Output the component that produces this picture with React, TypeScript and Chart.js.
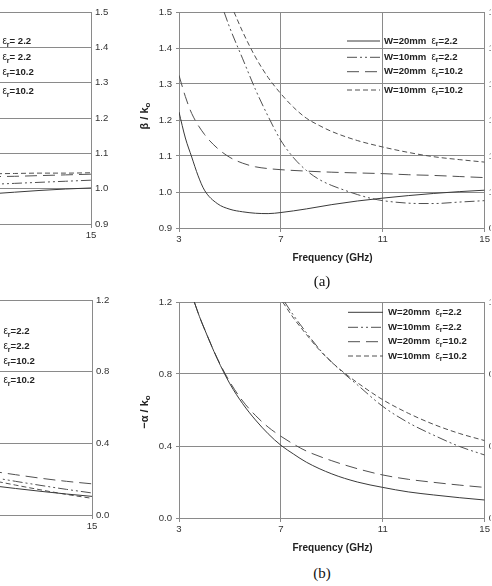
import React, { useEffect, useRef } from "react";
import { Chart, registerables } from "chart.js";

Chart.register(...registerables);

// ---------------- data ----------------
const freqTicks = [3, 7, 11, 15];
const betaTicks = [0.9, 1.0, 1.1, 1.2, 1.3, 1.4, 1.5];
const alphaTicks = [0.0, 0.4, 0.8, 1.2];
const legendW = ["W=20mm", "W=10mm", "W=20mm", "W=10mm"];
const legendEr = ["2.2", "2.2", "10.2", "10.2"];
const freqTitle = "Frequency (GHz)";

// (a) right panel: beta / k0
const betaFreqW20Er22 = [3, 3.25, 3.5, 3.75, 4, 4.5, 5, 5.5, 6, 6.5, 7, 8, 9, 10, 11, 12, 13, 14, 15];
const betaW20Er22 = [1.222, 1.15, 1.097, 1.045, 1.005, 0.968, 0.952, 0.945, 0.941, 0.94, 0.943, 0.953, 0.965, 0.975, 0.983, 0.99, 0.996, 1.001, 1.005];
const betaFreqW10Er22 = [4.77, 5, 5.5, 6, 6.5, 7, 7.5, 8, 8.5, 9, 9.5, 10, 10.5, 11, 12, 12.5, 13, 14, 15];
const betaW10Er22 = [1.5, 1.455, 1.37, 1.285, 1.21, 1.143, 1.095, 1.06, 1.035, 1.018, 1.005, 0.993, 0.983, 0.976, 0.969, 0.968, 0.968, 0.972, 0.976];
const betaFreqW20Er102 = [3, 3.25, 3.5, 4, 4.5, 5, 5.5, 6, 6.5, 7, 8, 9, 10, 11, 12, 13, 14, 15];
const betaW20Er102 = [1.324, 1.265, 1.218, 1.16, 1.122, 1.096, 1.08, 1.07, 1.065, 1.062, 1.058, 1.055, 1.053, 1.051, 1.048, 1.046, 1.043, 1.04];
const betaFreqW10Er102 = [5.16, 5.5, 6, 6.5, 7, 7.5, 8, 8.5, 9, 10, 11, 12, 13, 14, 15];
const betaW10Er102 = [1.5, 1.445, 1.375, 1.318, 1.273, 1.235, 1.205, 1.185, 1.168, 1.143, 1.125, 1.11, 1.098, 1.09, 1.083];

// (b) right panel: -alpha / k0
const alphaFreqW20Er22 = [3.6, 3.8, 4, 4.5, 5, 5.5, 6, 6.5, 7, 7.5, 8, 9, 10, 11, 12, 13, 14, 15];
const alphaW20Er22 = [1.2, 1.12, 1.05, 0.885, 0.745, 0.635, 0.545, 0.468, 0.404, 0.355, 0.31, 0.245, 0.2, 0.17, 0.145, 0.128, 0.113, 0.1];
const alphaFreqW10Er22 = [7.15, 7.5, 8, 8.5, 9, 9.5, 10, 11, 12, 13, 14, 15];
const alphaW10Er22 = [1.2, 1.125, 1.03, 0.94, 0.865, 0.8, 0.74, 0.62, 0.53, 0.46, 0.398, 0.35];
const alphaFreqW20Er102 = [3.6, 3.8, 4, 4.5, 5, 5.5, 6, 6.5, 7, 7.5, 8, 9, 10, 11, 12, 13, 14, 15];
const alphaW20Er102 = [1.2, 1.12, 1.05, 0.888, 0.755, 0.65, 0.57, 0.505, 0.454, 0.41, 0.372, 0.318, 0.274, 0.239, 0.215, 0.198, 0.183, 0.17];
const alphaFreqW10Er102 = [7.07, 7.5, 8, 8.5, 9, 9.5, 10, 11, 12, 13, 14, 15];
const alphaW10Er102 = [1.2, 1.11, 1.02, 0.935, 0.865, 0.805, 0.752, 0.657, 0.582, 0.52, 0.47, 0.43];

// left (cropped) panels: only the high-frequency end is visible
const leftFreq = [11, 12, 13, 14, 15];
const leftBetaW20Er22 = [0.985, 0.99, 0.995, 0.999, 1.002];
const leftBetaW10Er22 = [1.012, 1.015, 1.018, 1.021, 1.024];
const leftBetaW20Er102 = [1.034, 1.035, 1.037, 1.039, 1.041];
const leftBetaW10Er102 = [1.042, 1.043, 1.044, 1.044, 1.045];
const leftAlphaW20Er22 = [0.165, 0.148, 0.132, 0.117, 0.104];
const leftAlphaW10Er22 = [0.212, 0.188, 0.165, 0.143, 0.123];
const leftAlphaW20Er102 = [0.246, 0.225, 0.205, 0.188, 0.174];
const leftAlphaW10Er102 = [0.195, 0.167, 0.14, 0.115, 0.093];

// ---------------- styles ----------------
const FONT = '"Liberation Sans", Arial, sans-serif';
const GRID = "#8a8a8a";
const TEXT = "#222";
const DASHES = [[], [10, 3, 2, 3, 2, 3], [12, 6], [5, 3]];
const COLORS = ["#3a3a3a", "#505050", "#505050", "#505050"];
const Y_W = 40;
const X_H = 20;

type Panel = {
  left: number;
  top: number;
  w: number;
  h: number;
  y2w: number;
  area: { l: number; t: number; r: number; b: number };
  yMin: number;
  yMax: number;
  yTicks: number[];
  xs: number[][];
  ys: number[][];
  legend: { ys: number[]; textX: number; lineX1: number; lineX2: number; spaced: boolean };
  yTitle?: { main: string; sub: string; x: number; y: number };
  xTitle?: { x: number; y: number };
};

function ChartPanel(p: Panel) {
  const ref = useRef<HTMLCanvasElement | null>(null);
  useEffect(() => {
    const canvas = ref.current;
    if (!canvas) return;
    const deco = {
      id: "deco",
      afterDraw(chart: any) {
        const ctx: CanvasRenderingContext2D = chart.ctx;
        ctx.save();
        ctx.textAlign = "left";
        ctx.textBaseline = "middle";
        const L = p.legend;
        L.ys.forEach((y, i) => {
          ctx.beginPath();
          ctx.setLineDash(DASHES[i]);
          ctx.strokeStyle = COLORS[i];
          ctx.lineWidth = 1;
          ctx.moveTo(L.lineX1, y);
          ctx.lineTo(L.lineX2, y);
          ctx.stroke();
          ctx.setLineDash([]);
          ctx.fillStyle = TEXT;
          let x = L.textX;
          ctx.font = `bold 9.6px ${FONT}`;
          ctx.fillText(legendW[i], x, y);
          x += ctx.measureText(legendW[i]).width + 5;
          ctx.font = `10px ${FONT}`;
          ctx.fillText("ε", x, y);
          x += ctx.measureText("ε").width;
          ctx.font = `bold 7px ${FONT}`;
          ctx.fillText("r", x, y + 3);
          x += ctx.measureText("r").width;
          ctx.font = `bold 9.6px ${FONT}`;
          const er = legendEr[i];
          ctx.fillText("=" + (L.spaced && er.length < 4 ? " " : "") + er, x, y);
        });
        if (p.yTitle) {
          const t = p.yTitle;
          ctx.translate(t.x, t.y);
          ctx.rotate(-Math.PI / 2);
          ctx.font = `bold 11px ${FONT}`;
          const mw = ctx.measureText(t.main).width;
          ctx.font = `bold 8px ${FONT}`;
          const sw = ctx.measureText(t.sub).width;
          let sx = -(mw + sw) / 2;
          ctx.font = `bold 11px ${FONT}`;
          ctx.fillText(t.main, sx, 0);
          sx += mw;
          ctx.font = `bold 8px ${FONT}`;
          ctx.fillText(t.sub, sx, 3);
          ctx.setTransform(1, 0, 0, 1, 0, 0);
        }
        if (p.xTitle) {
          ctx.textAlign = "center";
          ctx.font = `bold 10px ${FONT}`;
          ctx.fillText(freqTitle, p.xTitle.x, p.xTitle.y);
        }
        ctx.restore();
      },
    };
    const tickFont = { family: FONT, size: 9.6 };
    const chart = new Chart(canvas, {
      type: "line",
      data: {
        datasets: p.xs.map((xs, i) => ({
          data: xs.map((x, j) => ({ x, y: p.ys[i][j] })),
          borderColor: COLORS[i],
          borderWidth: 1,
          borderDash: DASHES[i],
          pointRadius: 0,
          pointHoverRadius: 0,
          fill: false,
          cubicInterpolationMode: "monotone",
        })),
      },
      options: {
        responsive: false,
        animation: false,
        events: [],
        layout: {
          padding: {
            left: p.area.l - Y_W,
            right: p.w - p.area.r - p.y2w,
            top: p.area.t,
            bottom: p.h - p.area.b - X_H,
          },
        },
        plugins: { legend: { display: false }, tooltip: { enabled: false }, title: { display: false } },
        scales: {
          x: {
            type: "linear",
            position: "bottom",
            min: 3,
            max: 15,
            afterBuildTicks: (s: any) => {
              s.ticks = freqTicks.map((v) => ({ value: v }));
            },
            afterFit: (s: any) => {
              s.height = X_H;
            },
            ticks: { autoSkip: false, maxRotation: 0, color: "#333", font: tickFont, padding: 2, callback: (v: any) => String(v) },
            grid: { color: GRID, lineWidth: 1, drawTicks: true, tickLength: 4 },
            border: { color: GRID, width: 1 },
          },
          y: {
            type: "linear",
            position: "left",
            min: p.yMin,
            max: p.yMax,
            afterBuildTicks: (s: any) => {
              s.ticks = p.yTicks.map((v) => ({ value: v }));
            },
            afterFit: (s: any) => {
              s.width = Y_W;
            },
            ticks: { autoSkip: false, color: "#333", font: tickFont, padding: 4, callback: (v: any) => Number(v).toFixed(1) },
            grid: { color: GRID, lineWidth: 1, drawTicks: true, tickLength: 3 },
            border: { color: GRID, width: 1 },
          },
          y2: {
            type: "linear",
            position: "right",
            min: p.yMin,
            max: p.yMax,
            afterBuildTicks: (s: any) => {
              s.ticks = p.yTicks.map((v) => ({ value: v }));
            },
            afterFit: (s: any) => {
              s.width = p.y2w;
            },
            ticks: { autoSkip: false, color: "#333", font: tickFont, padding: 4, callback: (v: any) => Number(v).toFixed(1) },
            grid: { display: false, drawTicks: false },
            border: { color: GRID, width: 1 },
          },
        },
      } as any,
      plugins: [deco],
    } as any);
    return () => chart.destroy();
  }, []);
  return (
    <canvas
      ref={ref}
      width={p.w}
      height={p.h}
      style={{ position: "absolute", left: p.left, top: p.top, width: p.w, height: p.h }}
    />
  );
}

const captionStyle: React.CSSProperties = {
  position: "absolute",
  left: 297,
  width: 50,
  textAlign: "center",
  fontFamily: '"Liberation Serif", "Times New Roman", serif',
  fontSize: 15,
  lineHeight: "16px",
  color: "#111",
};

export default function App() {
  return (
    <div
      style={{
        position: "fixed",
        left: 0,
        top: 0,
        width: 492,
        height: 586,
        overflow: "hidden",
        background: "#fff",
      }}
    >
      {/* (a) left, cropped */}
      <ChartPanel
        left={-300}
        top={0}
        w={420}
        h={268}
        y2w={25}
        area={{ l: 85, t: 12, r: 391, b: 224 }}
        yMin={0.9}
        yMax={1.5}
        yTicks={betaTicks}
        xs={[leftFreq, leftFreq, leftFreq, leftFreq]}
        ys={[leftBetaW20Er22, leftBetaW10Er22, leftBetaW20Er102, leftBetaW10Er102]}
        legend={{ ys: [41.7, 57.7, 72.3, 91.7], textX: 255, lineX1: 215, lineX2: 250, spaced: true }}
      />
      {/* (a) right */}
      <ChartPanel
        left={0}
        top={0}
        w={492}
        h={268}
        y2w={6}
        area={{ l: 179, t: 12, r: 486, b: 228 }}
        yMin={0.9}
        yMax={1.5}
        yTicks={betaTicks}
        xs={[betaFreqW20Er22, betaFreqW10Er22, betaFreqW20Er102, betaFreqW10Er102]}
        ys={[betaW20Er22, betaW10Er22, betaW20Er102, betaW10Er102]}
        legend={{ ys: [41, 57.3, 71.7, 90], textX: 384, lineX1: 347, lineX2: 380, spaced: false }}
        yTitle={{ main: "β / k", sub: "o", x: 145, y: 116 }}
        xTitle={{ x: 332.5, y: 258 }}
      />
      {/* (b) left, cropped */}
      <ChartPanel
        left={-300}
        top={288}
        w={420}
        h={268}
        y2w={25}
        area={{ l: 86, t: 12, r: 392, b: 227 }}
        yMin={0}
        yMax={1.2}
        yTicks={alphaTicks}
        xs={[leftFreq, leftFreq, leftFreq, leftFreq]}
        ys={[leftAlphaW20Er22, leftAlphaW10Er22, leftAlphaW20Er102, leftAlphaW10Er102]}
        legend={{ ys: [43.7, 58.7, 73, 92.7], textX: 256, lineX1: 216, lineX2: 251, spaced: false }}
      />
      {/* (b) right */}
      <ChartPanel
        left={0}
        top={290}
        w={492}
        h={268}
        y2w={6}
        area={{ l: 179, t: 12, r: 486, b: 228 }}
        yMin={0}
        yMax={1.2}
        yTicks={alphaTicks}
        xs={[alphaFreqW20Er22, alphaFreqW10Er22, alphaFreqW20Er102, alphaFreqW10Er102]}
        ys={[alphaW20Er22, alphaW10Er22, alphaW20Er102, alphaW10Er102]}
        legend={{ ys: [22.3, 37.3, 51.7, 66], textX: 388, lineX1: 348, lineX2: 383, spaced: false }}
        yTitle={{ main: "−α / k", sub: "o", x: 145, y: 122 }}
        xTitle={{ x: 332.5, y: 258 }}
      />
      <div style={{ ...captionStyle, top: 273 }}>(a)</div>
      <div style={{ ...captionStyle, top: 565 }}>(b)</div>
    </div>
  );
}
